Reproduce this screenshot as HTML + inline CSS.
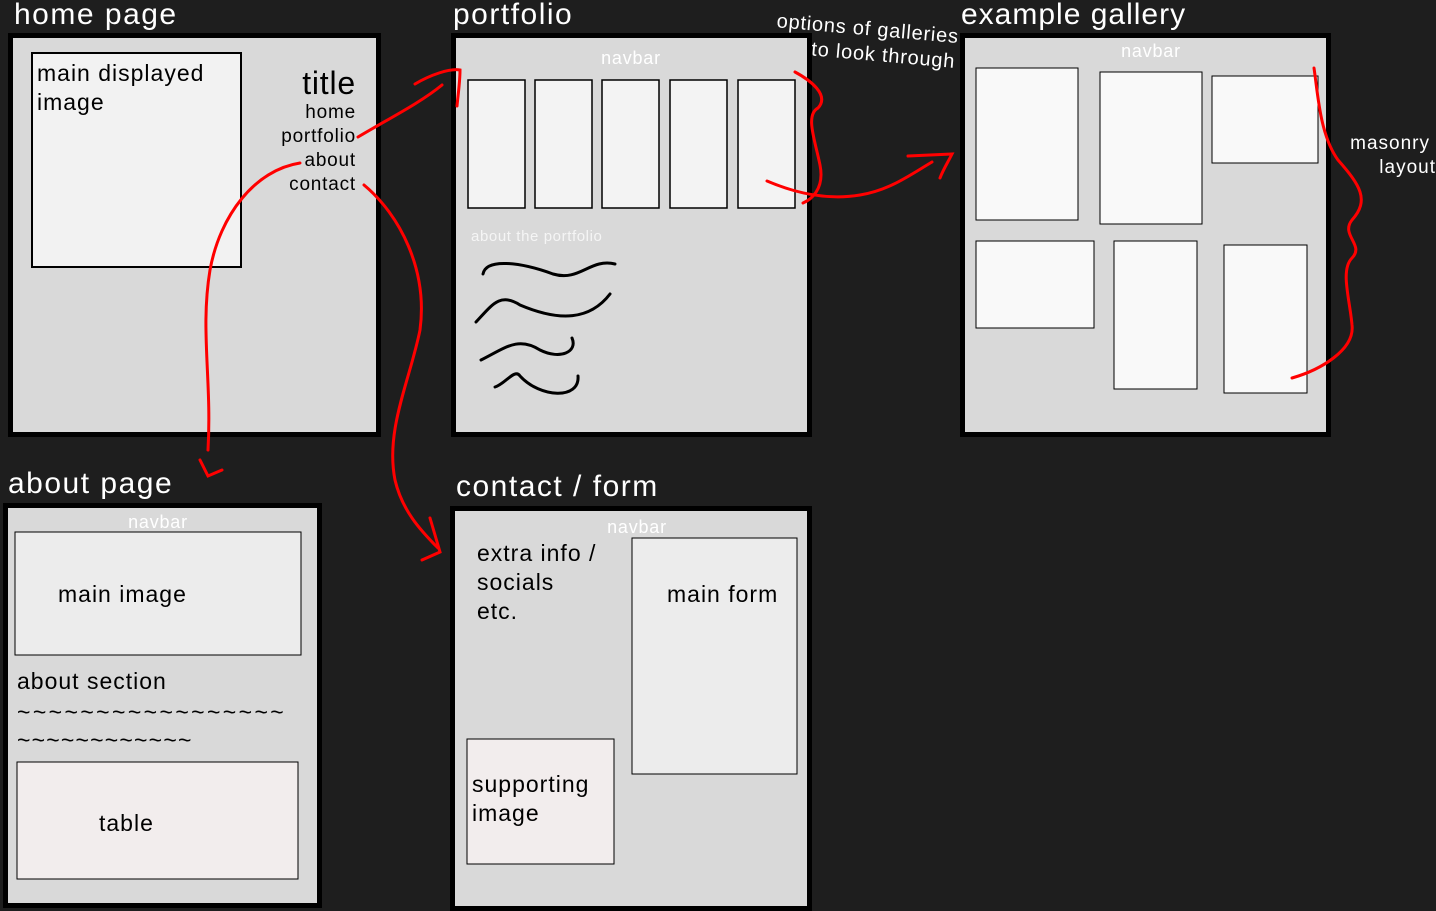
<!DOCTYPE html>
<html><head><meta charset="utf-8"><style>
html,body{margin:0;padding:0;background:#1e1e1e;width:1436px;height:911px;overflow:hidden}
svg{display:block}
text{font-family:"Liberation Sans",sans-serif}
</style></head><body>
<svg width="1436" height="911" viewBox="0 0 1436 911">
<rect width="1436" height="911" fill="#1e1e1e"/>
<g fill="#fff" font-size="30" letter-spacing="1.5">
<text x="14" y="24">home page</text>
<text x="453" y="24">portfolio</text>
<text x="961" y="24" letter-spacing="1">example gallery</text>
<text x="8" y="493">about page</text>
<text x="456" y="496">contact / form</text>
</g>
<g fill="#d9d9d9" stroke="#000" stroke-width="5">
<rect x="10.5" y="35.5" width="368" height="399"/>
<rect x="453.5" y="35.5" width="356" height="399"/>
<rect x="962.5" y="35.5" width="366" height="399"/>
<rect x="5.5" y="505.5" width="314" height="400"/>
<rect x="452.5" y="508.5" width="357" height="400"/>
</g>
<!-- home -->
<rect x="32" y="53" width="209" height="214" fill="#f2f2f2" stroke="#000" stroke-width="2"/>
<g font-size="23" letter-spacing="1">
<text x="37" y="81">main displayed</text>
<text x="37" y="110">image</text>
</g>
<g text-anchor="end" font-size="19" letter-spacing="0.8">
<text x="356" y="94" font-size="32">title</text>
<text x="356" y="118">home</text>
<text x="356" y="142">portfolio</text>
<text x="356" y="166">about</text>
<text x="356" y="190">contact</text>
</g>
<!-- portfolio -->
<text x="631" y="64" font-size="18" fill="#fff" text-anchor="middle" letter-spacing="0.8">navbar</text>
<g fill="#f3f3f3" stroke="#000" stroke-width="1.5">
<rect x="468" y="80" width="57" height="128"/><rect x="535" y="80" width="57" height="128"/>
<rect x="602" y="80" width="57" height="128"/><rect x="670" y="80" width="57" height="128"/>
<rect x="738" y="80" width="57" height="128"/>
</g>
<text x="471" y="241" font-size="15" fill="#f5f5f5" letter-spacing="0.6">about the portfolio</text>
<g fill="none" stroke="#000" stroke-width="3" stroke-linecap="round">
<path d="M483,274 C486,258 520,262 553,274 C580,282 590,258 615,264"/>
<path d="M476,322 C492,305 500,292 520,305 C560,322 590,320 610,294"/>
<path d="M481,360 C505,348 518,336 540,350 C560,360 578,352 572,338"/>
<path d="M495,387 C505,384 515,368 520,376 C540,398 580,400 578,376"/>
</g>
<g transform="rotate(5 865 45)" fill="#fff" font-size="20" letter-spacing="0.8">
<text x="775" y="35">options of galleries</text>
<text x="812" y="60">to look through</text>
</g>
<!-- gallery -->
<text x="1151" y="57" font-size="18" fill="#fff" text-anchor="middle" letter-spacing="0.8">navbar</text>
<g fill="#f9f9f9" stroke="#000" stroke-width="1">
<rect x="976" y="68" width="102" height="152"/><rect x="1100" y="72" width="102" height="152"/>
<rect x="1212" y="76" width="106" height="87"/><rect x="976" y="241" width="118" height="87"/>
<rect x="1114" y="241" width="83" height="148"/><rect x="1224" y="245" width="83" height="148"/>
</g>
<g font-size="19" fill="#fff" text-anchor="end" letter-spacing="1">
<text x="1430" y="149">masonry</text>
<text x="1436" y="173">layout</text>
</g>
<!-- about -->
<text x="158" y="528" font-size="18" fill="#fff" text-anchor="middle" letter-spacing="0.8">navbar</text>
<rect x="15" y="532" width="286" height="123" fill="#ececec" stroke="#000" stroke-width="1"/>
<g font-size="23" letter-spacing="1">
<text x="58" y="602">main image</text>
<text x="17" y="689">about section</text>
<text x="17" y="720" letter-spacing="2.4">~~~~~~~~~~~~~~~~~</text>
<text x="17" y="748" letter-spacing="1.2">~~~~~~~~~~~~</text>
</g>
<rect x="17" y="762" width="281" height="117" fill="#f2eded" stroke="#000" stroke-width="1"/>
<text x="99" y="831" font-size="23" letter-spacing="1">table</text>
<!-- contact -->
<text x="637" y="533" font-size="18" fill="#fff" text-anchor="middle" letter-spacing="0.8">navbar</text>
<g font-size="23" letter-spacing="1">
<text x="477" y="561">extra info /</text>
<text x="477" y="590">socials</text>
<text x="477" y="619">etc.</text>
</g>
<rect x="632" y="538" width="165" height="236" fill="#ececec" stroke="#000" stroke-width="1"/>
<text x="667" y="602" font-size="23" letter-spacing="1">main form</text>
<rect x="467" y="739" width="147" height="125" fill="#f2eded" stroke="#000" stroke-width="1"/>
<g font-size="23" letter-spacing="1">
<text x="472" y="792">supporting</text>
<text x="472" y="821">image</text>
</g>
<!-- red arrows -->
<g fill="none" stroke="#ff0000" stroke-width="3" stroke-linecap="round">
<path d="M358,137 C390,118 420,103 442,85"/>
<path d="M415,84 C430,75 450,68 460,70 C460,82 458,95 457,106"/>
<path d="M300,163 C255,170 220,215 210,270 C200,330 212,380 208,450"/>
<path d="M200,460 L208,476 L222,470"/>
<path d="M364,185 C400,215 428,270 420,330 C410,380 385,430 395,480 C402,510 420,530 438,548"/>
<path d="M422,560 L440,552 L430,518"/>
<path d="M795,72 C810,80 830,95 818,108 C805,115 815,140 820,165 C825,190 810,200 803,203"/>
<path d="M767,181 C800,195 830,200 860,195 C890,190 910,175 932,162"/>
<path d="M908,156 L952,154 C948,162 943,170 940,178"/>
<path d="M1314,68 C1318,95 1320,135 1338,160 C1360,185 1370,200 1352,220 C1340,235 1365,245 1352,258 C1340,270 1350,300 1352,325 C1355,350 1320,370 1292,378"/>
</g>
</svg>
</body></html>
